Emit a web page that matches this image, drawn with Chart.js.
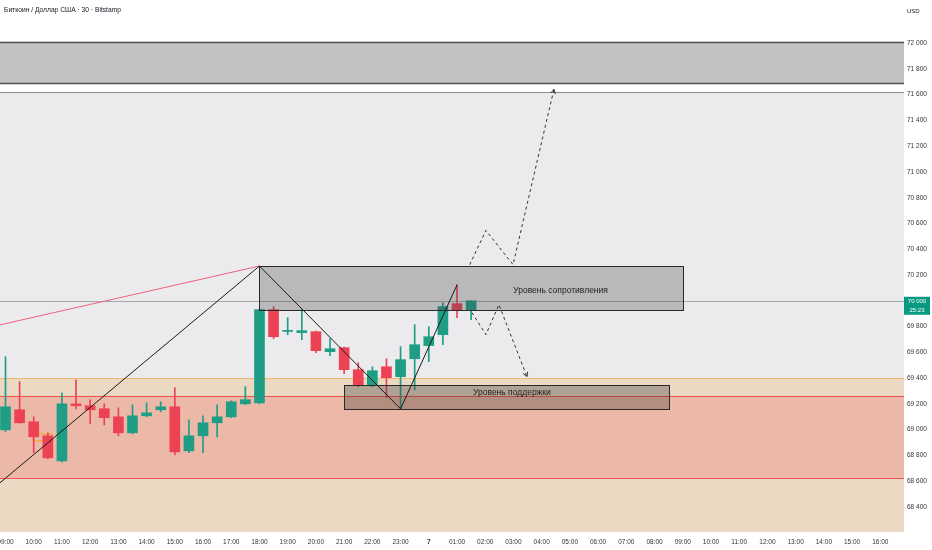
<!DOCTYPE html>
<html>
<head>
<meta charset="utf-8">
<script src="https://cdn.jsdelivr.net/npm/chart.js@4.4.1/dist/chart.umd.min.js"></script>
<style>
  html, body { margin: 0; padding: 0; background: #fff; }
  #wrap { width: 932px; height: 550px; }
</style>
</head>
<body>
<div id="wrap"><canvas id="btcChart"></canvas></div>
<script>
// 30 minute candles, index 0 = 09:00, index 30 = 00:00 (day 7)
const opens  = [68998, 69154, 69061, 68952, 68757, 69200, 69185, 69162, 69099, 68975, 69107, 69154,
                69177, 68835, 68952, 69053, 69099, 69200, 69208, 69931, 69762, 69753, 69760, 69605,
                69636, 69465, 69341, 69488, 69411, 69550, 69652, 69737, 69978, 69924];
const highs  = [69566, 69372, 69099, 68975, 69286, 69387, 69232, 69200, 69169, 69193, 69208, 69216,
                69325, 69076, 69107, 69193, 69224, 69333, 69931, 69955, 69869, 69931, 69765, 69706,
                69640, 69519, 69488, 69550, 69644, 69815, 69799, 69986, 70125, 70001];
const lows   = [68985, 69050, 68820, 68773, 68750, 69162, 69045, 69037, 68952, 68967, 69099, 69138,
                68804, 68820, 68820, 68944, 69092, 69193, 69200, 69706, 69737, 69698, 69597, 69574,
                69434, 69333, 69333, 69247, 69162, 69309, 69527, 69659, 69869, 69854];
const closes = [69177, 69053, 68944, 68781, 69200, 69185, 69154, 69092, 68975, 69107, 69130, 69177,
                68827, 68952, 69053, 69099, 69216, 69232, 69931, 69721, 69770, 69768, 69613, 69628,
                69465, 69341, 69457, 69403, 69543, 69659, 69721, 69955, 69924, 70000];

// hourly axis labels (one every 2 candles)
const timeLabels = ['09:00', '10:00', '11:00', '12:00', '13:00', '14:00', '15:00', '16:00', '17:00',
                    '18:00', '19:00', '20:00', '21:00', '22:00', '23:00', '7', '01:00', '02:00',
                    '03:00', '04:00', '05:00', '06:00', '07:00', '08:00', '09:00', '10:00', '11:00',
                    '12:00', '13:00', '14:00', '15:00', '16:00'];
const priceTicks = [68400, 68600, 68800, 69000, 69200, 69400, 69600, 69800, 70000,
                    70200, 70400, 70600, 70800, 71000, 71200, 71400, 71600, 71800, 72000];

// drawn lines: [candle index, price]
const zigzag      = [[-0.39, 68587], [18, 70270], [28, 69161], [32, 70123]];
const redTrend    = [[-0.39, 69813], [18, 70270]];
const pathUp      = [[32.9, 70280], [34.05, 70546], [35.97, 70281], [38.87, 71642]];
const pathDown    = [[33.06, 69908], [34.05, 69737], [34.97, 69970], [36.96, 69411]];

// zones: price levels
const targetZone     = [71690, 72010];
const targetLine     = 71620;
const supplyLevel    = 69400;
const demandZone     = [68626, 69262];
const lastPrice      = 70000;
const resistanceBox  = {from: 18, to: 48, low: 69931, high: 70270};
const supportBox     = {from: 24, to: 47, low: 69162, high: 69348};
const smallMark      = {from: 1.95, to: 3.3, low: 68913, high: 68967};

const upColor = '#1f9e85';
const downColor = '#ec4254';

const candleColors = closes.map((c, i) => c >= opens[i] ? upColor : downColor);
const bodies = closes.map((c, i) => {
  let lo = Math.min(opens[i], c), hi = Math.max(opens[i], c);
  if (hi - lo < 8) { hi = lo + 8; }
  return {x: i, y: [lo, hi]};
});
const wicks = closes.map((c, i) => ({x: i, y: [lows[i], highs[i]]}));
const toPoints = (arr) => arr.map(p => ({x: p[0], y: p[1]}));

const FONT = '"Liberation Sans", Arial, sans-serif';

function px(chart, axis, v) {
  return chart.scales[axis].getPixelForValue(v);
}

const zonesPlugin = {
  id: 'zones',
  beforeDatasetsDraw(chart) {
    const {ctx, chartArea: a} = chart;
    ctx.save();
    ctx.beginPath();
    ctx.rect(a.left, a.top, a.width, a.height);
    ctx.clip();
    const band = (hi, lo, fill) => {
      const y1 = px(chart, 'y', hi), y2 = px(chart, 'y', lo);
      ctx.fillStyle = fill;
      ctx.fillRect(a.left, y1, a.width, y2 - y1);
    };
    const hline = (v, color, w) => {
      const y = Math.round(px(chart, 'y', v)) + 0.5;
      ctx.strokeStyle = color;
      ctx.lineWidth = w;
      ctx.beginPath();
      ctx.moveTo(a.left, y);
      ctx.lineTo(a.right, y);
      ctx.stroke();
    };
    ctx.fillStyle = '#ffffff';
    ctx.fillRect(a.left, a.top, a.width, a.height);

    band(targetZone[1], targetZone[0], '#c2c2c2');
    hline(targetZone[1], '#505050', 1.5);
    hline(targetZone[0], '#505050', 1.5);

    band(targetLine, supplyLevel, '#ebebed');
    hline(targetLine, '#8a8a8a', 1);

    band(supplyLevel, chart.scales.y.min, '#ebd9c3');
    hline(supplyLevel, '#f0b96e', 1);

    band(demandZone[1], demandZone[0], '#ecb8a8');
    hline(demandZone[1], '#ef5350', 1);
    hline(demandZone[0], '#ef5350', 1);

    hline(lastPrice, '#a8a8a8', 1);

    // small orange marker
    const mx1 = px(chart, 'x', smallMark.from), mx2 = px(chart, 'x', smallMark.to);
    const my1 = px(chart, 'y', smallMark.high), my2 = px(chart, 'y', smallMark.low);
    ctx.strokeStyle = '#f5a623';
    ctx.lineWidth = 1;
    ctx.strokeRect(mx1, my1, mx2 - mx1, my2 - my1);
    ctx.restore();
  },
  afterDatasetDraw(chart, args) {
    if (chart.data.datasets[args.index].label !== 'bodies') return;
    const {ctx, chartArea: a} = chart;
    ctx.save();
    ctx.beginPath();
    ctx.rect(a.left, a.top, a.width, a.height);
    ctx.clip();
    const box = (b, fill, text, fx, fy) => {
      const x1 = Math.round(px(chart, 'x', b.from)) + 0.5, x2 = Math.round(px(chart, 'x', b.to)) + 0.5;
      const y1 = Math.round(px(chart, 'y', b.high)) + 0.5, y2 = Math.round(px(chart, 'y', b.low)) + 0.5;
      ctx.fillStyle = fill;
      ctx.fillRect(x1, y1, x2 - x1, y2 - y1);
      ctx.strokeStyle = '#2a2a2a';
      ctx.lineWidth = 1;
      ctx.strokeRect(x1, y1, x2 - x1, y2 - y1);
      ctx.fillStyle = '#1e1e1e';
      ctx.font = '8.5px ' + FONT;
      ctx.textAlign = 'center';
      ctx.textBaseline = 'middle';
      ctx.fillText(text, x1 + (x2 - x1) * fx, y1 + (y2 - y1) * fy);
    };
    box(resistanceBox, 'rgba(70,70,72,0.30)', 'Уровень сопротивления', 0.71, 0.54);
    box(supportBox, 'rgba(60,55,50,0.33)', 'Уровень поддержки', 0.515, 0.3);
    ctx.restore();
  },
  afterDatasetsDraw(chart) {
    const {ctx} = chart;
    // open arrow heads at the end of the dashed paths
    chart.data.datasets.forEach((ds, i) => {
      if (!ds.arrow) return;
      const pts = chart.getDatasetMeta(i).data;
      const p1 = pts[pts.length - 2], p2 = pts[pts.length - 1];
      const ang = Math.atan2(p2.y - p1.y, p2.x - p1.x);
      ctx.save();
      ctx.strokeStyle = '#333';
      ctx.lineWidth = 1;
      ctx.beginPath();
      [-0.5, 0.5].forEach(d => {
        ctx.moveTo(p2.x, p2.y);
        ctx.lineTo(p2.x - 5 * Math.cos(ang + d), p2.y - 5 * Math.sin(ang + d));
      });
      ctx.stroke();
      ctx.restore();
    });
  },
  afterDraw(chart) {
    const {ctx, chartArea: a} = chart;
    ctx.save();
    ctx.fillStyle = '#131722';
    ctx.font = '6.7px ' + FONT;
    ctx.textAlign = 'left';
    ctx.textBaseline = 'middle';
    ctx.fillText('Биткоин / Доллар США · 30 · Bitstamp', 4, 10);
    ctx.font = '6px ' + FONT;
    ctx.fillText('USD', 907, 11);

    // last price label on the axis
    const y = px(chart, 'y', lastPrice);
    ctx.fillStyle = '#089981';
    ctx.fillRect(a.right, y - 4, 932 - a.right - 2, 18);
    ctx.fillStyle = '#ffffff';
    ctx.textAlign = 'center';
    ctx.font = '6px ' + FONT;
    ctx.fillText('70 000', a.right + 13, y + 1);
    ctx.fillText('25:23', a.right + 13, y + 10);
    ctx.restore();
  }
};

const ctx = document.getElementById('btcChart').getContext('2d');
new Chart(ctx, {
  type: 'bar',
  data: {
    datasets: [
      {label: 'zigzag', type: 'line', data: toPoints(zigzag), borderColor: '#1a1a1a', borderWidth: 1,
       pointRadius: 0, order: 0},
      {label: 'red trend', type: 'line', data: toPoints(redTrend), borderColor: '#f0607a', borderWidth: 1,
       pointRadius: 0, order: 0},
      {label: 'path up', type: 'line', data: toPoints(pathUp), borderColor: '#333', borderWidth: 1,
       borderDash: [3, 3], pointRadius: 0, order: 0, arrow: true},
      {label: 'path down', type: 'line', data: toPoints(pathDown), borderColor: '#333', borderWidth: 1,
       borderDash: [3, 3], pointRadius: 0, order: 0, arrow: true},
      {label: 'bodies', data: bodies, backgroundColor: candleColors, barThickness: 10,
       grouped: false, borderWidth: 0, order: 1},
      {label: 'wicks', data: wicks, backgroundColor: candleColors, barThickness: 1,
       grouped: false, borderWidth: 0, order: 2}
    ]
  },
  options: {
    responsive: true,
    maintainAspectRatio: false,
    animation: false,
    layout: {padding: 0},
    plugins: {legend: {display: false}, tooltip: {enabled: false}},
    scales: {
      x: {
        type: 'linear',
        min: -0.39,
        max: 63.68,
        offset: false,
        grid: {display: false, drawTicks: false},
        border: {display: false},
        afterBuildTicks: (scale) => { scale.ticks = timeLabels.map((_, k) => ({value: k * 2})); },
        afterFit: (scale) => {
          scale.height = 18;
          scale.paddingLeft = 0;
          scale.paddingRight = 0;
        },
        ticks: {
          autoSkip: false,
          maxRotation: 0,
          padding: 6,
          color: '#333',
          font: (c) => ({family: FONT, size: 6.5, weight: c.tick && c.tick.label === '7' ? 'bold' : 'normal'}),
          callback: (v, i) => timeLabels[i]
        }
      },
      y: {
        type: 'linear',
        position: 'right',
        min: 68205,
        max: 72335,
        grid: {display: false, drawTicks: false},
        border: {display: false},
        afterBuildTicks: (scale) => { scale.ticks = priceTicks.map(v => ({value: v})); },
        afterFit: (scale) => {
          scale.width = 28;
          scale.paddingTop = 0;
          scale.paddingBottom = 0;
        },
        ticks: {
          padding: 3,
          color: '#333',
          font: {family: FONT, size: 6.5},
          callback: (v) => Math.floor(v / 1000) + ' ' + String(v % 1000).padStart(3, '0')
        }
      }
    }
  },
  plugins: [zonesPlugin]
});
</script>
</body>
</html>
